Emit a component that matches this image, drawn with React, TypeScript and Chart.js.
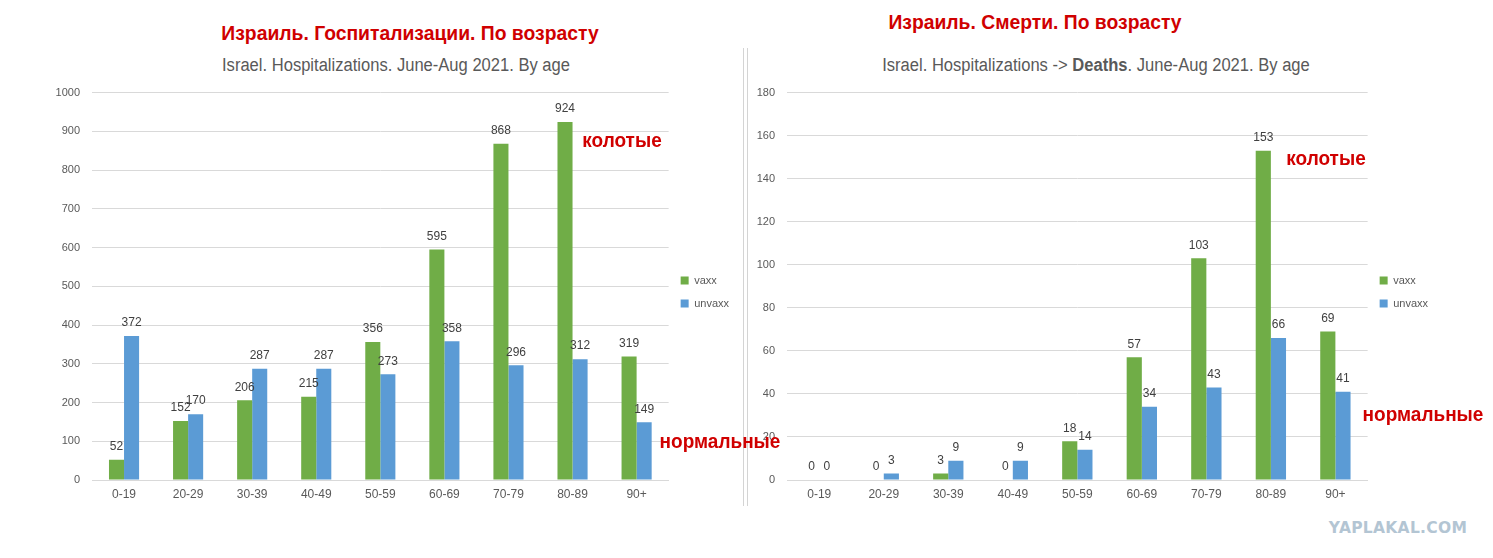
import React, { useEffect, useRef } from 'react';
import { Chart, registerables } from 'chart.js';

Chart.register(...registerables);

// age groups on the x axis
const ageGroups = ['0-19', '20-29', '30-39', '40-49', '50-59', '60-69', '70-79', '80-89', '90+'];

// left chart: hospitalizations
const hospVaxx = [52, 152, 206, 215, 356, 595, 868, 924, 319];
const hospUnvaxx = [372, 170, 287, 287, 273, 358, 296, 312, 149];
const hospMax = 1000;
const hospStep = 100;

// right chart: deaths
const deathVaxx = [0, 0, 3, 0, 18, 57, 103, 153, 69];
const deathUnvaxx = [0, 3, 9, 9, 14, 34, 43, 66, 41];
const deathMax = 180;
const deathStep = 20;

const seriesNames = ['vaxx', 'unvaxx'];

const GREEN = '#70ad47';
const BLUE = '#5b9bd5';
const FONT = '"Liberation Sans", Arial, sans-serif';

const valueLabels = {
  id: 'valueLabels',
  afterDatasetsDraw(chart: any) {
    const ctx = chart.ctx;
    ctx.save();
    ctx.font = `12px ${FONT}`;
    ctx.fillStyle = '#404040';
    ctx.textAlign = 'center';
    ctx.textBaseline = 'middle';
    chart.data.datasets.forEach((ds: any, i: number) => {
      chart.getDatasetMeta(i).data.forEach((bar: any, j: number) => {
        ctx.fillText(String(ds.data[j]), bar.x, bar.y - 13);
      });
    });
    ctx.restore();
  },
};

type PanelProps = {
  vaxx: number[];
  unvaxx: number[];
  max: number;
  step: number;
  yWidth: number;
  padRight: number;
  width: number;
  height: number;
};

const BarPanel = ({ vaxx, unvaxx, max, step, yWidth, padRight, width, height }: PanelProps) => {
  const canvasRef = useRef<HTMLCanvasElement>(null);

  useEffect(() => {
    if (!canvasRef.current) return;
    const chart = new Chart(canvasRef.current, {
      type: 'bar',
      data: {
        labels: ageGroups,
        datasets: [
          { label: seriesNames[0], data: vaxx, backgroundColor: GREEN, categoryPercentage: 0.47, barPercentage: 1 },
          { label: seriesNames[1], data: unvaxx, backgroundColor: BLUE, categoryPercentage: 0.47, barPercentage: 1 },
        ],
      },
      options: {
        animation: false,
        responsive: false,
        layout: { padding: { top: 0, right: padRight, bottom: 0, left: 0 } },
        plugins: {
          title: { display: false },
          tooltip: { enabled: false },
          legend: {
            position: 'right',
            labels: {
              boxWidth: 8,
              boxHeight: 8,
              padding: 12,
              color: '#595959',
              font: { size: 11, family: FONT },
            },
          },
        },
        scales: {
          x: {
            grid: { display: false, drawTicks: false },
            border: { display: true, color: '#d9d9d9' },
            ticks: { color: '#595959', font: { size: 12, family: FONT }, padding: 7 },
            afterFit: (s: any) => {
              s.height = 30;
            },
          },
          y: {
            min: 0,
            max: max,
            ticks: {
              stepSize: step,
              color: '#595959',
              font: { size: 11, family: FONT },
              padding: 12,
              callback: (v: any) => String(v),
            },
            grid: { color: '#d9d9d9', drawTicks: false },
            border: { display: false },
            afterFit: (s: any) => {
              s.width = yWidth;
            },
          },
        },
      },
      plugins: [valueLabels],
    });
    return () => chart.destroy();
  }, []);

  return <canvas ref={canvasRef} width={width} height={height} style={{ width, height, display: 'block' }} />;
};

const textAt = (x: number, y: number, sx: number, style: React.CSSProperties): React.CSSProperties => ({
  position: 'absolute',
  left: x,
  top: y,
  transform: `translate(-50%, -50%) scaleX(${sx})`,
  whiteSpace: 'nowrap',
  ...style,
});

const redTitle: React.CSSProperties = { color: '#d00000', fontFamily: FONT, fontWeight: 'bold', fontSize: 21 };
const greyTitle: React.CSSProperties = { color: '#595959', fontFamily: FONT, fontSize: 18 };
const redNote: React.CSSProperties = { color: '#d00000', fontFamily: FONT, fontWeight: 'bold', fontSize: 20 };

export default function App() {
  return (
    <div
      style={{
        position: 'absolute',
        left: 0,
        top: 0,
        width: 1493,
        height: 558,
        background: '#fff',
        overflow: 'hidden',
      }}
    >
      <div style={textAt(410, 33, 0.92, redTitle)}>Израиль. Госпитализации. По возрасту</div>
      <div style={textAt(1035, 22, 0.92, redTitle)}>Израиль. Смерти. По возрасту</div>
      <div style={textAt(396, 65, 0.92, greyTitle)}>Israel. Hospitalizations. June-Aug 2021. By age</div>
      <div style={textAt(1096, 65, 0.92, greyTitle)}>
        Israel. Hospitalizations -&gt; <b>Deaths</b>. June-Aug 2021. By age
      </div>

      <div style={{ position: 'absolute', left: 0, top: 74 }}>
        <BarPanel vaxx={hospVaxx} unvaxx={hospUnvaxx} max={hospMax} step={hospStep} yWidth={92} padRight={6} width={745} height={436} />
      </div>
      <div style={{ position: 'absolute', left: 745, top: 74 }}>
        <BarPanel vaxx={deathVaxx} unvaxx={deathUnvaxx} max={deathMax} step={deathStep} yWidth={42} padRight={55} width={748} height={436} />
      </div>

      <div style={{ position: 'absolute', left: 743, top: 48, width: 1, height: 458, background: '#d4d4d4' }} />
      <div style={{ position: 'absolute', left: 747, top: 48, width: 1, height: 458, background: '#d4d4d4' }} />

      <div style={textAt(622, 140, 0.95, redNote)}>колотые</div>
      <div style={textAt(720, 441, 0.95, redNote)}>нормальные</div>
      <div style={textAt(1326, 158, 0.95, redNote)}>колотые</div>
      <div style={textAt(1423, 414, 0.95, redNote)}>нормальные</div>

      <div
        style={textAt(1398, 528, 1, {
          color: '#b3c5d3',
          fontFamily: '"DejaVu Sans", sans-serif',
          fontWeight: 'bold',
          fontSize: 15.5,
          letterSpacing: 0.3,
        })}
      >
        YAPLAKAL.COM
      </div>
    </div>
  );
}
